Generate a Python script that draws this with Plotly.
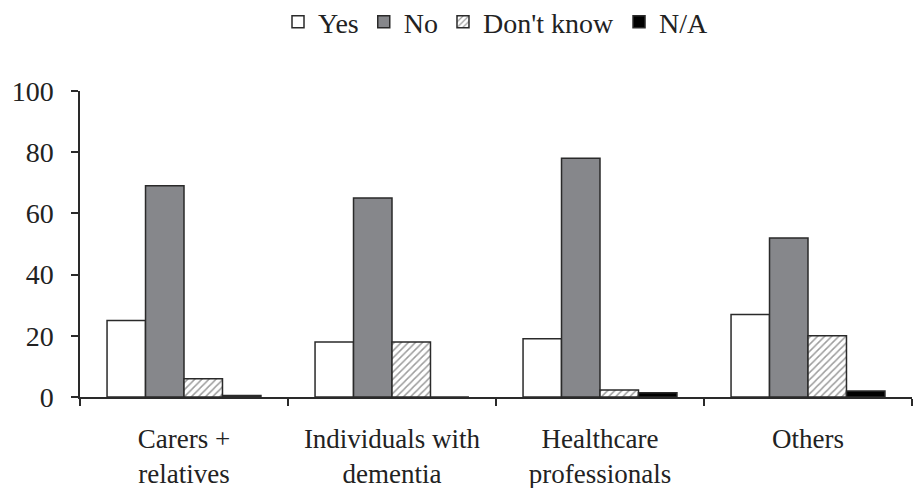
import plotly.graph_objects as go

categories = ["Carers +<br>relatives", "Individuals with<br>dementia", "Healthcare<br>professionals", "Others"]
yes_vals = [25, 18, 19, 27]
no_vals = [69, 65, 78, 52]
dontknow_vals = [6, 18, 2.3, 20]
na_vals = [0.5, 0, 1.4, 2]
y_ticks = [0, 20, 40, 60, 80, 100]

line = dict(color="#2a2a2a", width=1.5)
FONT = "Liberation Serif, Times New Roman, serif"

fig = go.Figure()
fig.add_trace(go.Bar(name="Yes", x=categories, y=yes_vals,
                     marker=dict(color="white", line=line)))
fig.add_trace(go.Bar(name="No", x=categories, y=no_vals,
                     marker=dict(color="#86878b", line=line)))
fig.add_trace(go.Bar(name="Don't know", x=categories, y=dontknow_vals,
                     marker=dict(color="white", line=line,
                                 pattern=dict(shape="/", fgcolor="#3a3a3a", bgcolor="white",
                                              size=5, solidity=0.3))))
fig.add_trace(go.Bar(name="N/A", x=categories, y=na_vals,
                     marker=dict(color="black", line=line)))

fig.update_layout(
    width=913, height=488,
    margin=dict(l=80, r=1, t=91, b=91, autoexpand=False),
    paper_bgcolor="white", plot_bgcolor="white",
    barmode="group", bargap=0.26, bargroupgap=0,
    font=dict(family=FONT, size=27, color="#222"),
    legend=dict(orientation="h", x=0.5, xanchor="center", yref="container", y=0.955,
                yanchor="middle", font=dict(size=28), itemwidth=30, tracegroupgap=0),
    showlegend=True,
)
fig.update_xaxes(showline=True, linecolor="#2a2a2a", linewidth=1.5,
                 tickson="boundaries", ticks="outside", ticklen=7, tickcolor="#2a2a2a",
                 tickwidth=1.5, showgrid=False, ticklabelstandoff=17,
                 tickfont=dict(size=27))
fig.update_yaxes(range=[0, 100], tickvals=y_ticks, showline=True, linecolor="#2a2a2a",
                 linewidth=1.5, ticks="outside", ticklen=7, tickcolor="#2a2a2a",
                 tickwidth=1.5, showgrid=False, zeroline=False, ticklabelstandoff=12,
                 tickfont=dict(size=28))

fig.write_html("out.html", config={"displayModeBar": False},
               post_script="document.body.style.margin='0';document.body.style.overflow='hidden';")
